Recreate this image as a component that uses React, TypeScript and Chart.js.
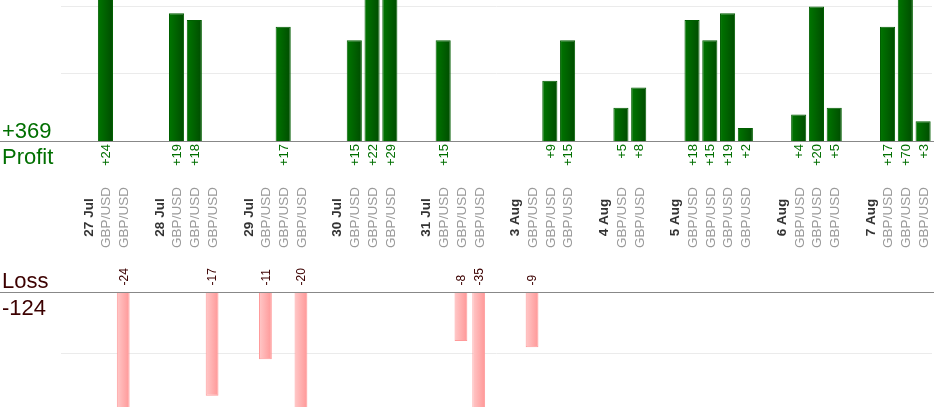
import React, { useEffect, useRef } from "react";
import { Chart, registerables } from "chart.js";

Chart.register(...registerables);

// ---- data ----
const dates = ["27 Jul", "28 Jul", "29 Jul", "30 Jul", "31 Jul", "3 Aug", "4 Aug", "5 Aug", "6 Aug", "7 Aug"];
const tradeCounts = [2, 3, 3, 3, 3, 3, 2, 4, 3, 3];
const tradeResults = [
  24, -24,
  19, 18, -17,
  -11, 17, -20,
  15, 22, 29,
  15, -8, -35,
  -9, 9, 15,
  5, 8,
  18, 15, 19, 2,
  4, 20, 5,
  17, 70, 3,
];
const symbol = "GBP/USD";
const profitTicks = [0, 10, 20];
const lossTicks = [0, -10];

// ---- derived columns ----
type Col = { kind: "spacer" | "date" | "trade"; day: number; value: number | null };
const cols: Col[] = [];
{
  let t = 0;
  dates.forEach((_, i) => {
    cols.push({ kind: "spacer", day: i, value: null });
    cols.push({ kind: "date", day: i, value: null });
    for (let k = 0; k < tradeCounts[i]; k++) cols.push({ kind: "trade", day: i, value: tradeResults[t++] });
  });
}
const labels = cols.map((_, i) => String(i));
const profitData = cols.map((c) => (c.kind === "trade" && (c.value as number) > 0 ? c.value : null));
const lossData = cols.map((c) => (c.kind === "trade" && (c.value as number) < 0 ? c.value : null));
const totalProfit = tradeResults.filter((v) => v > 0).reduce((a, b) => a + b, 0);
const totalLoss = tradeResults.filter((v) => v < 0).reduce((a, b) => a + b, 0);

const FONT = '"Liberation Sans", Arial, Helvetica, sans-serif';
const GREEN_TEXT = "#006f00";
const LOSS_TEXT = "#3c0000";

function vText(ctx: CanvasRenderingContext2D, text: string, x: number, y: number, align: CanvasTextAlign, size: number, font: string, color: string) {
  ctx.save();
  ctx.translate(x, y);
  ctx.rotate(-Math.PI / 2);
  ctx.font = font;
  ctx.fillStyle = color;
  ctx.textAlign = align;
  ctx.textBaseline = "alphabetic";
  ctx.fillText(text, 0, size * 0.36);
  ctx.restore();
}

function gradientFor(pct: number, c0: string, c1: string) {
  return (ctx: any) => {
    const chart = ctx.chart;
    const xs = chart.scales && chart.scales.x;
    if (!xs || ctx.dataIndex == null || !chart.chartArea) return c1;
    const x = xs.getPixelForValue(ctx.dataIndex);
    const hw = ((xs.right - xs.left) / labels.length) * pct / 2;
    if (!isFinite(x) || !isFinite(hw)) return c1;
    const g = chart.ctx.createLinearGradient(x - hw, 0, x + hw, 0);
    g.addColorStop(0, c0);
    g.addColorStop(1, c1);
    return g;
  };
}

const topPlugin = {
  id: "topLabels",
  afterDraw(chart: any) {
    const { ctx, chartArea } = chart;
    const xs = chart.scales.x;
    const base = chartArea.bottom;
    ctx.save();
    ctx.strokeStyle = "#888";
    ctx.lineWidth = 1;
    ctx.beginPath();
    ctx.moveTo(0, base);
    ctx.lineTo(chart.width, base);
    ctx.stroke();
    ctx.font = `22px ${FONT}`;
    ctx.fillStyle = GREEN_TEXT;
    ctx.textAlign = "left";
    ctx.textBaseline = "alphabetic";
    ctx.fillText("+" + totalProfit, 2, base - 4);
    ctx.fillText("Profit", 2, base + 22);
    ctx.restore();

    cols.forEach((c, i) => {
      const x = xs.getPixelForValue(i);
      if (c.kind === "date") {
        vText(ctx, dates[c.day], x, base + 76, "center", 13.5, `bold 13.5px ${FONT}`, "#333");
      } else if (c.kind === "trade") {
        vText(ctx, symbol, x, base + 76, "center", 13.5, `13.5px ${FONT}`, "#9a9a9a");
        if ((c.value as number) > 0) {
          vText(ctx, "+" + c.value, x, base + 2.5, "right", 13, `13px ${FONT}`, GREEN_TEXT);
        }
      }
    });
  },
};

const bottomPlugin = {
  id: "bottomLabels",
  afterDraw(chart: any) {
    const { ctx, chartArea } = chart;
    const xs = chart.scales.x;
    const base = chartArea.top;
    ctx.save();
    ctx.strokeStyle = "#888";
    ctx.lineWidth = 1;
    ctx.beginPath();
    ctx.moveTo(0, base);
    ctx.lineTo(chart.width, base);
    ctx.stroke();
    ctx.font = `22px ${FONT}`;
    ctx.fillStyle = LOSS_TEXT;
    ctx.textAlign = "left";
    ctx.textBaseline = "alphabetic";
    ctx.fillText("Loss", 2, base - 5);
    ctx.fillText(String(totalLoss), 2, base + 22.5);
    ctx.restore();

    cols.forEach((c, i) => {
      if (c.kind === "trade" && (c.value as number) < 0) {
        const x = xs.getPixelForValue(i);
        vText(ctx, String(c.value), x, base - 7, "left", 12, `12px ${FONT}`, LOSS_TEXT);
      }
    });
  },
};

export default function App() {
  const topRef = useRef<HTMLCanvasElement>(null);
  const botRef = useRef<HTMLCanvasElement>(null);

  useEffect(() => {
    const top = new Chart(topRef.current as HTMLCanvasElement, {
      type: "bar",
      data: {
        labels,
        datasets: [
          {
            data: profitData as any,
            backgroundColor: gradientFor(0.85, "#007600", "#004c00") as any,
            borderColor: "#005e00",
            borderWidth: 1,
            barPercentage: 0.85,
            categoryPercentage: 1,
            clip: 0 as any,
          },
        ],
      },
      options: {
        animation: false,
        responsive: false,
        maintainAspectRatio: false,
        layout: { padding: { left: 61, right: 2, top: 0, bottom: 118.5 } },
        plugins: { legend: { display: false }, tooltip: { enabled: false } },
        scales: {
          x: { display: false, offset: true },
          y: {
            min: profitTicks[0],
            max: 20.96,
            afterBuildTicks: (s: any) => {
              s.ticks = profitTicks.map((v) => ({ value: v }));
            },
            ticks: { display: false },
            grid: { color: "#ebebeb", drawTicks: false },
            border: { display: false },
          },
        },
      },
      plugins: [topPlugin],
    });

    const bot = new Chart(botRef.current as HTMLCanvasElement, {
      type: "bar",
      data: {
        labels,
        datasets: [
          {
            data: lossData as any,
            backgroundColor: gradientFor(0.72, "#ffc8c8", "#ff9797") as any,
            borderColor: "#ff9a9a",
            borderWidth: 1,
            barPercentage: 0.72,
            categoryPercentage: 1,
            clip: 0 as any,
          },
        ],
      },
      options: {
        animation: false,
        responsive: false,
        maintainAspectRatio: false,
        layout: { padding: { left: 61, right: 2, top: 32.5, bottom: 13 } },
        plugins: { legend: { display: false }, tooltip: { enabled: false } },
        scales: {
          x: { display: false, offset: true },
          y: {
            min: -18.86,
            max: lossTicks[0],
            afterBuildTicks: (s: any) => {
              s.ticks = lossTicks.map((v) => ({ value: v }));
            },
            ticks: { display: false },
            grid: { color: "#ebebeb", drawTicks: false },
            border: { display: false },
          },
        },
      },
      plugins: [bottomPlugin],
    });

    return () => {
      top.destroy();
      bot.destroy();
    };
  }, []);

  return (
    <div style={{ position: "absolute", left: 0, top: 0, width: 934, height: 420, background: "#fff", overflow: "hidden" }}>
      <canvas ref={topRef} width={934} height={260} style={{ position: "absolute", left: 0, top: 0, width: 934, height: 260 }} />
      <canvas ref={botRef} width={934} height={160} style={{ position: "absolute", left: 0, top: 260, width: 934, height: 160 }} />
    </div>
  );
}
